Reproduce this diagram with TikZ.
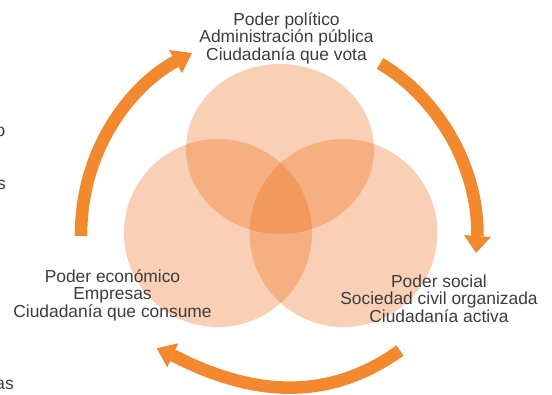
\documentclass[tikz,border=0pt]{standalone}
\usepackage{fontspec}
\setmainfont{Liberation Sans}
\definecolor{venn}{RGB}{235,100,10}
\definecolor{arrowor}{RGB}{243,137,46}
\definecolor{txtgray}{RGB}{60,60,60}
\begin{document}
\begin{tikzpicture}[x=1pt,y=-1pt,
  lbl/.style={align=center,text=txtgray,inner sep=0pt,font=\fontsize{17.4}{17.2}\selectfont},
  frag/.style={text=txtgray,inner sep=0pt,font=\fontsize{17.4}{17.2}\selectfont,anchor=base east},
  vennset/.style={fill=venn,fill opacity=0.3,draw=none},
  shaft/.style={draw=arrowor,line width=12.5pt,line cap=butt},
  head/.style={fill=arrowor,draw=none}]
\useasboundingbox (0,0) rectangle (552,394);
% circles
\fill[vennset] (280,149) ellipse [x radius=94pt, y radius=85pt];
\fill[vennset] (218,233) circle [radius=94pt];
\fill[vennset] (343.5,233) circle [radius=94pt];
% arrows
\draw[shaft] (81,236) .. controls (81,140) and (140,80) .. (175.5,61.5);
\fill[head] (169,50) -- (192,53) -- (182,73) -- cycle;
\draw[shaft] (380,63.5) .. controls (428,91) and (478,156) .. (477.5,236);
\fill[head] (464,235) -- (476,253) -- (491,237) -- cycle;
\draw[shaft] (400,350.5) .. controls (320,408) and (240,390) .. (172.8,355.3);
\fill[head] (178.3,343.3) -- (156.7,348.3) -- (167.3,367.3) -- cycle;
% labels (base anchor = baseline of last line)
\node[lbl,anchor=base] (pol) at (286.5,60) {Poder político\\Administración pública\\Ciudadanía que vota};
\node[lbl,anchor=base] (eco) at (112.5,317) {Poder económico\\Empresas\\Ciudadanía que consume};
\node[lbl,anchor=base] (soc) at (439,322) {Poder social\\Sociedad civil organizada\\Ciudadanía activa};
% cut-off fragments at left edge
\node[frag] (f1) at (5.5,136) {o};
\node[frag] (f2) at (6,189) {s};
\node[frag] (f3) at (14,389) {as};
\end{tikzpicture}
\end{document}
